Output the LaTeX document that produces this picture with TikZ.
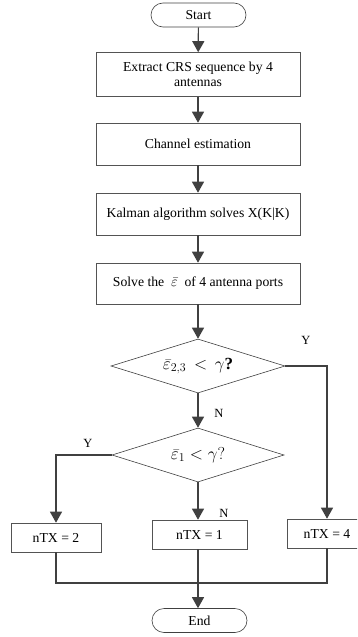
\documentclass[tikz,border=0pt]{standalone}
\usepackage{fontspec}
\setmainfont{Liberation Serif}
\usetikzlibrary{shapes.geometric,shapes.misc,arrows.meta}
\definecolor{ln}{HTML}{404040}
\begin{document}
\begin{tikzpicture}[x=1pt,y=-1pt,
  font=\fontsize{13.7}{15.5}\selectfont,
  every node/.style={inner sep=0pt},
  box/.style={draw=ln!90,line width=0.6pt,rectangle,align=center},
  term/.style={draw=ln,line width=0.6pt,rounded rectangle,minimum width=95pt,minimum height=24pt},
  dec/.style={draw=ln,line width=0.6pt,diamond,aspect=3.2,font=\fontsize{17}{19}\selectfont},
  conn/.style={draw=ln,line width=1.2pt},
  arr/.style={conn,-{Triangle[width=12pt,length=11pt]}},
  lbl/.style={font=\fontsize{12.5}{14}\selectfont}]
\clip (0,0) rectangle (357,637);
\useasboundingbox (0,0) rectangle (357,637);
\node[term] (start) at (198.5,15) {Start};
\node[box,minimum width=204pt,minimum height=44pt] (b1) at (198,74.5) {Extract CRS sequence by 4\\antennas};
\node[box,minimum width=204pt,minimum height=42pt] (b2) at (198,144) {Channel estimation};
\node[box,minimum width=204pt,minimum height=42pt] (b3) at (198,214) {Kalman algorithm solves X(K|K)};
\node[box,minimum width=204pt,minimum height=41pt] (b4) at (198,283.5) {Solve the\enspace$\bar{\varepsilon}$\enspace of 4 antenna ports};
\node[dec,minimum width=174pt,minimum height=54pt] (d1) at (198,366) {$\bar{\varepsilon}_{2,3} \mathrel{\,<\,} \gamma$\textbf{?}};
\node[dec,minimum width=172pt,minimum height=54pt] (d2) at (198,455) {$\bar{\varepsilon}_{1} < \gamma?$};
\node[box,minimum width=90pt,minimum height=29pt] (n2) at (56,537.5) {nTX = 2};
\node[box,minimum width=95pt,minimum height=29pt] (n1) at (199.5,534.5) {nTX = 1};
\node[box,minimum width=80pt,minimum height=29pt] (n4) at (327,533.5) {nTX = 4};
\node[term] (end) at (199.5,620.5) {End};
\coordinate (c4) at (327,366);
\coordinate (c2) at (56,455);
\coordinate (bl) at (56,583);
\coordinate (br) at (327,583);
\coordinate (bm) at (198,583);
\draw[arr] (start) -- (b1);
\draw[arr] (b1) -- (b2);
\draw[arr] (b2) -- (b3);
\draw[arr] (b3) -- (b4);
\draw[arr] (b4) -- (d1);
\draw[arr] (d1) -- (d2);
\draw[arr] (d2.south) -- (d2.south |- n1.north);
\draw[arr] (d1.east) -- (c4) -- (n4.north);
\draw[arr] (d2.west) -- (c2) -- (n2.north);
\draw[conn] (n2.south) -- (bl) -- (br) -- (n4.south);
\draw[arr] (n1.south -| bm) -- (bm) -- (end.north -| bm);
\node[lbl] (y1) at (306,340) {Y};
\node[lbl] (nn1) at (219,413) {N};
\node[lbl] (y2) at (88,443) {Y};
\node[lbl] (nn2) at (224,513) {N};
\end{tikzpicture}
\end{document}
